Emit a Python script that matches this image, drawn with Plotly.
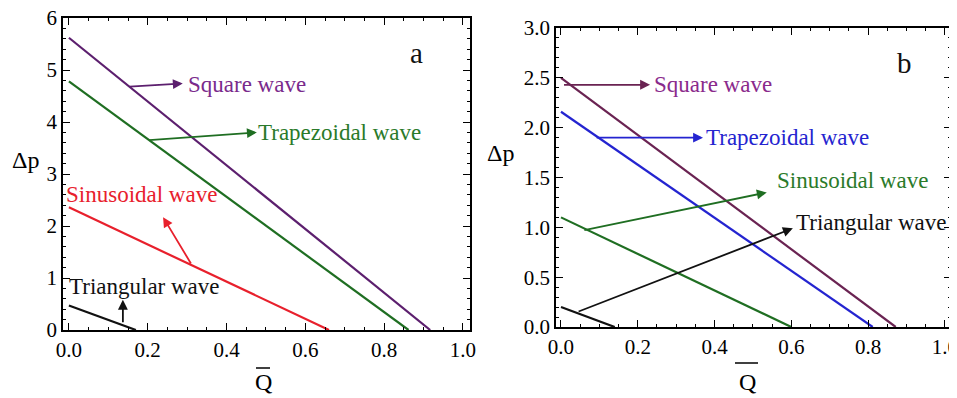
import plotly.graph_objects as go

# ---------------- data (panel a) ----------------
q_a_square = [0.0, 0.917]
dp_a_square = [5.62, 0.0]
q_a_trap = [0.0, 0.862]
dp_a_trap = [4.78, 0.0]
q_a_sin = [0.0, 0.660]
dp_a_sin = [2.36, 0.0]
q_a_tri = [0.0, 0.170]
dp_a_tri = [0.47, 0.0]

# ---------------- data (panel b) ----------------
q_b_square = [0.0, 0.872]
dp_b_square = [2.50, 0.0]
q_b_trap = [0.0, 0.812]
dp_b_trap = [2.16, 0.0]
q_b_sin = [0.0, 0.600]
dp_b_sin = [1.10, 0.0]
q_b_tri = [0.0, 0.140]
dp_b_tri = [0.20, 0.0]

x_ticks = [0.0, 0.2, 0.4, 0.6, 0.8, 1.0]
y_ticks_a = [0, 1, 2, 3, 4, 5, 6]
y_ticks_b = [0.0, 0.5, 1.0, 1.5, 2.0, 2.5, 3.0]

FONT = "Liberation Serif, Times New Roman, DejaVu Serif, serif"
PURPLE = "#5c1f6e"
PURPLE_B = "#6a2352"
GREEN = "#1f6e22"
RED = "#e8202c"
BLUE = "#2424d0"
BLACK = "#111111"

W, H = 957, 398
OFF = 8  # page body margin offset


def sx(px):
    return (px - OFF) / W


def sy(py):
    return 1 - (py - OFF) / H


fig = go.Figure()


def line(x, y, color, xa, ya):
    fig.add_trace(go.Scatter(x=x, y=y, mode="lines", line=dict(color=color, width=2.2),
                             xaxis=xa, yaxis=ya, showlegend=False, hoverinfo="skip"))


line(q_a_square, dp_a_square, PURPLE, "x", "y")
line(q_a_trap, dp_a_trap, GREEN, "x", "y")
line(q_a_sin, dp_a_sin, RED, "x", "y")
line(q_a_tri, dp_a_tri, BLACK, "x", "y")

line(q_b_square, dp_b_square, PURPLE_B, "x2", "y2")
line(q_b_trap, dp_b_trap, BLUE, "x2", "y2")
line(q_b_sin, dp_b_sin, GREEN, "x2", "y2")
line(q_b_tri, dp_b_tri, BLACK, "x2", "y2")

axis_common = dict(
    showline=True, linecolor="black", linewidth=1.5, mirror="allticks",
    ticks="inside", ticklen=7, tickwidth=1.2, tickcolor="black",
    showgrid=False, zeroline=False, automargin=False,
    ticklabeloverflow="allow",
    tickfont=dict(family=FONT, size=21, color="black"),
)

fig.update_layout(
    width=W, height=H,
    margin=dict(l=0, r=0, t=0, b=0, pad=0, autoexpand=False),
    paper_bgcolor="white", plot_bgcolor="white",
    font=dict(family=FONT),
    xaxis=dict(domain=[sx(63), sx(470)], range=[-0.015, 1.018], anchor="y",
               tickvals=x_ticks, tickformat=".1f",
               minor=dict(dtick=0.05, tick0=0, ticks="inside", ticklen=3.5, tickcolor="black"),
               **axis_common),
    yaxis=dict(domain=[sy(330), sy(18)], range=[0, 6], anchor="x",
               tickvals=y_ticks_a, tickformat="d",
               minor=dict(dtick=0.2, tick0=0, ticks="inside", ticklen=3.5, tickcolor="black"),
               **axis_common),
    xaxis2=dict(domain=[sx(556), sx(951)], range=[-0.013, 1.016], anchor="y2",
                tickvals=x_ticks, tickformat=".1f",
                minor=dict(dtick=0.05, tick0=0, ticks="inside", ticklen=3.5, tickcolor="black"),
                **axis_common),
    yaxis2=dict(domain=[sy(327), sy(28)], range=[0, 3.0], anchor="x2",
                tickvals=y_ticks_b, tickformat=".1f",
                minor=dict(dtick=0.1, tick0=0, ticks="inside", ticklen=3.5, tickcolor="black"),
                **axis_common),
)

ann = []


def arrow(xr, yr, tail, head, color):
    ann.append(dict(xref=xr, yref=yr, axref=xr, ayref=yr,
                    x=head[0], y=head[1], ax=tail[0], ay=tail[1],
                    showarrow=True, arrowhead=2, arrowsize=1.1, arrowwidth=1.8,
                    arrowcolor=color, text=""))


def label(xr, yr, x, y, text, color, size=23, xanchor="left"):
    ann.append(dict(xref=xr, yref=yr, x=x, y=y, text=text, showarrow=False,
                    xanchor=xanchor, yanchor="middle",
                    font=dict(family=FONT, size=size, color=color)))


# panel a annotations
arrow("x", "y", (0.150, 4.68), (0.289, 4.74), PURPLE)
label("x", "y", 0.298, 4.72, "Square wave", "#7a2a8c")
arrow("x", "y", (0.200, 3.65), (0.477, 3.80), GREEN)
label("x", "y", 0.476, 3.80, "Trapezoidal wave", "#2a7a2a")
arrow("x", "y", (0.312, 1.25), (0.239, 2.17), RED)
label("x", "y", -0.012, 2.60, "Sinusoidal wave", RED)
arrow("x", "y", (0.137, 0.12), (0.137, 0.58), BLACK)
label("x", "y", -0.004, 0.84, "Triangular wave", BLACK)
label("x", "y", 0.883, 5.33, "a", BLACK, size=29, xanchor="center")

# panel b annotations
arrow("x2", "y2", (0.004, 2.43), (0.232, 2.43), PURPLE_B)
label("x2", "y2", 0.236, 2.43, "Square wave", "#8a2a8c")
arrow("x2", "y2", (0.089, 1.90), (0.370, 1.90), BLUE)
label("x2", "y2", 0.372, 1.90, "Trapezoidal wave", BLUE)
arrow("x2", "y2", (0.057, 0.97), (0.536, 1.35), GREEN)
label("x2", "y2", 0.557, 1.47, "Sinusoidal wave", "#2a7a2a")
arrow("x2", "y2", (0.042, 0.15), (0.604, 0.99), BLACK)
label("x2", "y2", 0.608, 1.05, "Triangular wave", BLACK)
label("x2", "y2", 0.896, 2.65, "b", BLACK, size=29, xanchor="center")


# axis titles
def ptext(px, py, text, size=24):
    ann.append(dict(xref="paper", yref="paper", x=sx(px), y=sy(py), text=text,
                    showarrow=False, xanchor="center", yanchor="middle",
                    font=dict(family=FONT, size=size, color="black")))


ptext(25, 160, "Δp")
ptext(263, 382, "Q")
ptext(500, 153, "Δp")
ptext(747, 382, "Q")

fig.update_layout(annotations=ann)

# overlines for Q-bar
fig.add_shape(type="line", xref="paper", yref="paper",
              x0=sx(256), x1=sx(270), y0=sy(368), y1=sy(368),
              line=dict(color="black", width=1.5))
fig.add_shape(type="line", xref="paper", yref="paper",
              x0=sx(735), x1=sx(758), y0=sy(363), y1=sy(363),
              line=dict(color="black", width=1.5))

fig.write_html("out.html")
